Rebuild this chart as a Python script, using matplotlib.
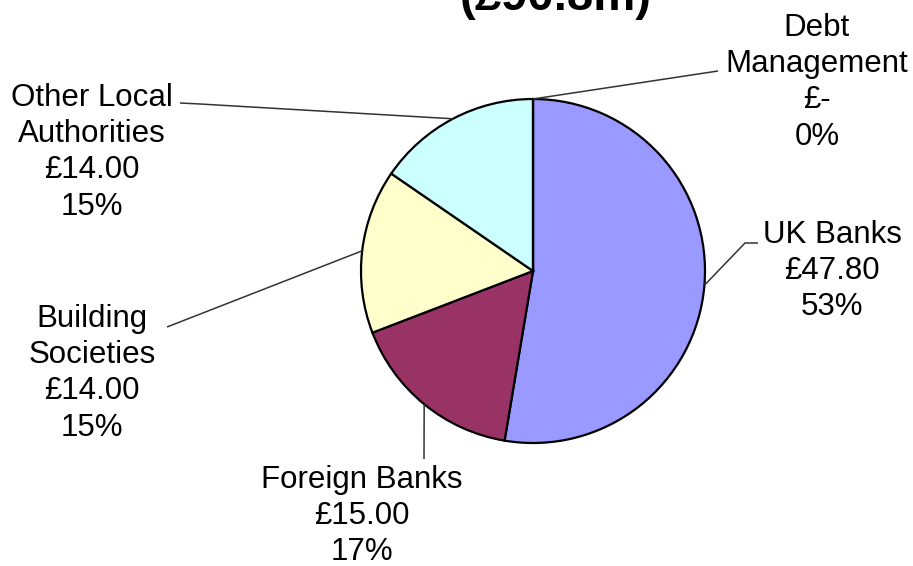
import numpy as np
import matplotlib
matplotlib.use('Agg')
import matplotlib.pyplot as plt

plt.rcParams['font.family'] = ['Liberation Sans', 'DejaVu Sans']

# data
categories = ['UK Banks', 'Foreign Banks', 'Building Societies',
              'Other Local Authorities', 'Debt Management']
values = [47.80, 15.00, 14.00, 14.00, 0.0]
value_labels = ['£47.80', '£15.00', '£14.00', '£14.00', '£-']
pct_labels = ['53%', '17%', '15%', '15%', '0%']
name_lines = ['UK Banks', 'Foreign Banks', 'Building\nSocieties',
              'Other Local\nAuthorities', 'Debt\nManagement']
colors = ['#9999FF', '#993366', '#FFFFCC', '#CCFFFF', '#FFFFFF']
title = '(£90.8m)'

W, H = 913, 566
CX, CY, R = 533, 271, 172   # pie centre/radius in pixels (from top)

fig = plt.figure(figsize=(W / 100, H / 100), dpi=100)
ax = fig.add_axes([0, 0, 1, 1])

def py(y):
    # pixel-from-top -> data y
    return H - y

wedges, _ = ax.pie(values, colors=colors, startangle=90, counterclock=False,
                   center=(CX, py(CY)), radius=R, frame=True,
                   wedgeprops=dict(edgecolor='black', linewidth=1.6))
ax.set_xlim(0, W)
ax.set_ylim(0, H)
ax.set_aspect('equal')
ax.axis('off')

# label positions (text centre x, top of first line y) and leader bends
label_pos = {
    'UK Banks': (832, 220),
    'Foreign Banks': (362, 465),
    'Building Societies': (92, 304),
    'Other Local Authorities': (92, 83),
    'Debt Management': (817, 13),
}
leader_mid = {
    'UK Banks': [(745, 243), (758, 243)],
    'Foreign Banks': [(424, 459)],
    'Building Societies': [(167, 327)],
    'Other Local Authorities': [(200, 104), (180, 103)],
    'Debt Management': [(718, 71)],
}

angles = []
for w in wedges:
    angles.append(np.deg2rad((w.theta1 + w.theta2) / 2))

for i, cat in enumerate(categories):
    a = angles[i]
    sx = CX + R * np.cos(a)
    sy = CY - R * np.sin(a)
    pts = [(sx, sy)] + leader_mid[cat]
    ax.plot([p[0] for p in pts], [py(p[1]) for p in pts],
            color='#333333', linewidth=1.1, solid_capstyle='butt')
    tx, ty = label_pos[cat]
    txt = name_lines[i] + '\n' + value_labels[i] + '\n' + pct_labels[i]
    ax.text(tx, py(ty), txt, ha='center', va='top', fontsize=22.5,
            linespacing=1.27, color='black')

# title line sits mostly above the top edge, as in the source image
ax.text(556, py(10), title, ha='center', va='baseline', fontsize=34,
        fontweight='bold', color='black')

fig.savefig('out.png', dpi=100)
